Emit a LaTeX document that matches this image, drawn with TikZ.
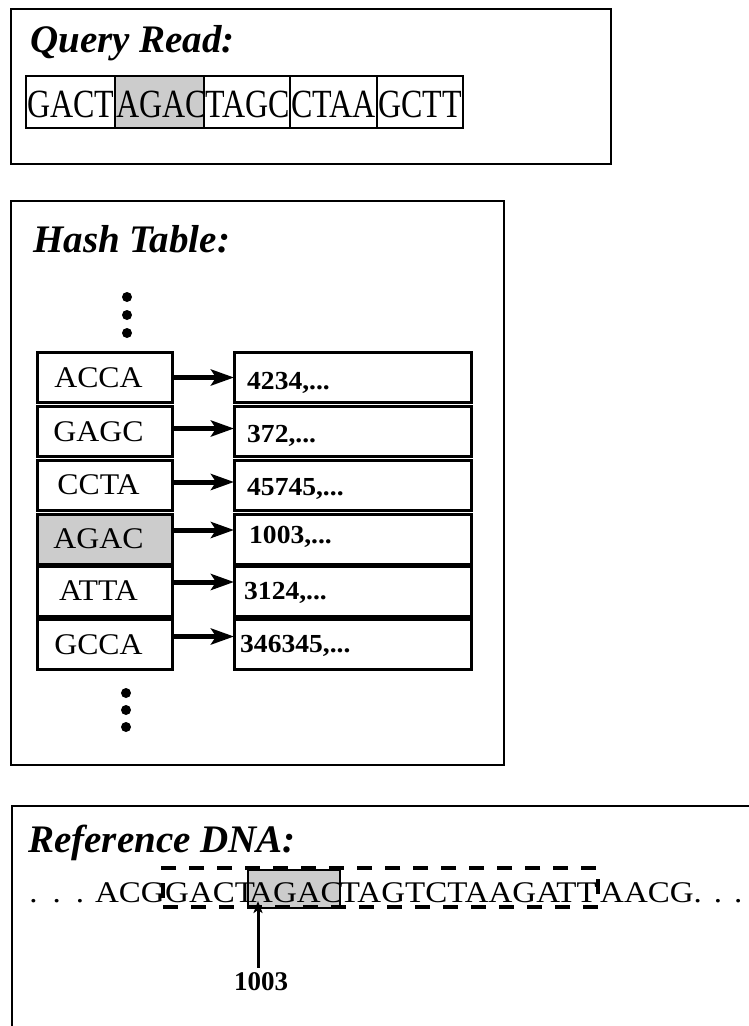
\documentclass[tikz,border=0pt]{standalone}
\usepackage{fontspec}
\setmainfont{Liberation Serif}
\newfontfamily\narrowserif[FakeStretch=0.8]{Liberation Serif}
\newfontfamily\wideserif[FakeStretch=1.06]{Liberation Serif}
\newfontfamily\seqserif[FakeStretch=1.1]{Liberation Serif}
\usetikzlibrary{arrows.meta}
\definecolor{hl}{RGB}{204,204,204}

\begin{document}
\begin{tikzpicture}[x=1pt,y=-1pt,
  frame/.style={draw=black, line width=2pt, outer sep=0pt, inner sep=0pt, anchor=north west},
  title/.style={anchor=base west, inner sep=0pt, font=\fontsize{39}{44}\selectfont\bfseries\itshape},
  qtext/.style={anchor=base west, inner sep=0pt, font=\narrowserif\fontsize{40}{44}\selectfont},
  qcell/.style={draw=black, line width=2.2pt, minimum height=52pt, minimum width=#1,
                anchor=north west, inner sep=0pt, outer sep=0pt},
  keybox/.style={draw=black, line width=3pt, minimum width=135pt, minimum height=50pt,
                 anchor=north west, inner sep=0pt, outer sep=0pt,
                 font=\wideserif\fontsize{30}{32}\selectfont},
  valbox/.style={draw=black, line width=3pt, minimum width=237pt, minimum height=50pt,
                 anchor=north west, inner sep=0pt, outer sep=0pt},
  valtext/.style={anchor=base west, inner sep=0pt, font=\wideserif\fontsize{26}{28}\selectfont\bfseries},
  link/.style={line width=5pt, -{Stealth[length=23pt, width=16pt, inset=5pt]}},
  dot/.style={circle, fill=black, inner sep=0pt, minimum size=10pt},
  seq/.style={inner sep=0pt, font=\seqserif\fontsize{30}{32}\selectfont}
]
\useasboundingbox (0,0) rectangle (749,1026);
\clip (0,0) rectangle (749,1026);

% ---------- query read ----------
\node[frame, minimum width=600pt, minimum height=155pt] (qframe) at (11,9) {};
\node[title] (qtitle) at (30,52) {Query Read:};
\fill[hl] (115,76) rectangle (204,128);
\node[qtext] (qt1) at (27,117) {GACT};
\node[qtext] (qt2) at (116,117) {AGAC};
\node[qtext] (qt3) at (205,117) {TAGC};
\node[qtext] (qt4) at (291,117) {CTAA};
\node[qtext] (qt5) at (378,117) {GCTT};
\node[qcell=89pt] (q1) at (26,76) {};
\node[qcell=89pt] (q2) at (115,76) {};
\node[qcell=86pt] (q3) at (204,76) {};
\node[qcell=87pt] (q4) at (290,76) {};
\node[qcell=86pt] (q5) at (377,76) {};

% ---------- hash table ----------
\node[frame, minimum width=493pt, minimum height=564pt] (hframe) at (11,201) {};
\node[title] (htitle) at (33,252) {Hash Table:};
\node[dot] (dt1) at (127,297) {};
\node[dot] (dt2) at (127,315) {};
\node[dot] (dt3) at (127,333) {};

% keys sit a little left of centre in their boxes
\node[keybox] (k1) at (37,352.5) {ACCA\hspace*{12pt}};
\node[keybox] (k2) at (37,406.5) {GAGC\hspace*{12pt}};
\node[keybox] (k3) at (37,460) {CCTA\hspace*{12pt}};
\node[keybox, fill=hl] (k4) at (37,514) {AGAC\hspace*{12pt}};
\node[keybox] (k5) at (37,566) {ATTA\hspace*{12pt}};
\node[keybox] (k6) at (37,619.5) {GCCA\hspace*{12pt}};

\node[valbox] (v1) at (234,352.5) {};
\node[valbox] (v2) at (234,406.5) {};
\node[valbox] (v3) at (234,460) {};
\node[valbox] (v4) at (234,514) {};
\node[valbox] (v5) at (234,566) {};
\node[valbox] (v6) at (234,619.5) {};

\node[valtext] (vt1) at (247,389) {4234,...};
\node[valtext] (vt2) at (247,442) {372,...};
\node[valtext] (vt3) at (247,495) {45745,...};
\node[valtext] (vt4) at (249,543) {1003,...};
\node[valtext] (vt5) at (244,599) {3124,...};
\node[valtext] (vt6) at (240,652) {346345,...};

\draw[link] (k1.east) -- (v1.west);
\draw[link] ([yshift=3pt]k2.east) -- ([yshift=3pt]v2.west);
\draw[link] ([yshift=3pt]k3.east) -- ([yshift=3pt]v3.west);
\draw[link] ([yshift=9pt]k4.east) -- ([yshift=9pt]v4.west);
\draw[link] ([yshift=9pt]k5.east) -- ([yshift=9pt]v5.west);
\draw[link] ([yshift=8pt]k6.east) -- ([yshift=8pt]v6.west);

\node[dot] (db1) at (126,693) {};
\node[dot] (db2) at (126,710) {};
\node[dot] (db3) at (126,727) {};

% ---------- reference DNA ----------
\node[frame, minimum width=780pt, minimum height=260pt] (rframe) at (12,806) {};
\node[title] (rtitle) at (28,852) {Reference DNA:};
\node[draw=black, line width=1.2pt, fill=hl, minimum width=92pt, minimum height=38pt,
      anchor=north west, inner sep=0pt, outer sep=0pt] (hit) at (248,870) {};
\node[seq, anchor=base west] (seqA) at (165,902) {GACT};
\node[seq, anchor=base west] (seqB) at (249,902) {AGAC};
\node[seq, anchor=base east] (seqC) at (597,902) {TAGTCTAAGATT};
\node[seq, anchor=base east] (seqL) at (165,902) {.\hspace{15pt}.\hspace{15pt}.\hspace{11pt}ACG};
\node[seq, anchor=base west] (seqR) at (600,902) {AACG.\hspace{12pt}.\hspace{12pt}.};
\node[draw=black, line width=4.5pt, dash pattern=on 15pt off 13pt, minimum width=435pt,
      minimum height=39pt, anchor=north west, inner sep=0pt, outer sep=0pt] (window) at (163,868) {};
\node[inner sep=0pt, anchor=base, font=\fontsize{27}{28}\selectfont\bfseries] (pos) at (261,990) {1003};
\coordinate (tip) at (258,901);
\draw[line width=3pt, -{Stealth[length=12pt, width=9pt, inset=3pt]}] (pos.north -| tip) ++(0,-4) -- (tip);
\end{tikzpicture}
\end{document}
